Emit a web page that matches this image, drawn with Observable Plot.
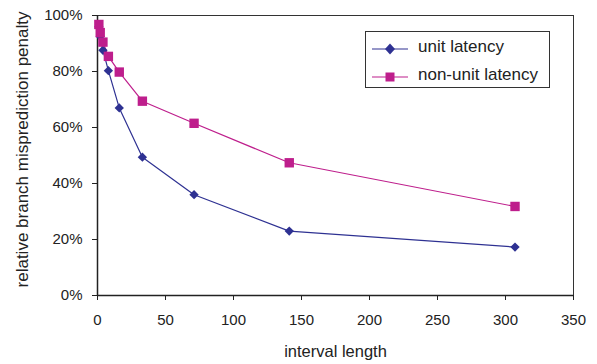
<!DOCTYPE html>
<html>
<head>
<meta charset="utf-8">
<script src="https://cdn.jsdelivr.net/npm/d3@7"></script>
<script src="https://cdn.jsdelivr.net/npm/@observablehq/plot@0.6"></script>
<style>
  html, body { margin: 0; padding: 0; background: #fff; }
  #wrap { position: relative; width: 597px; height: 364px; font-family: "Liberation Sans", Arial, sans-serif; }
  #legend { position: absolute; left: 365px; top: 31px; width: 183px; height: 55px; border: 1px solid #333; background: #fff; }
  .sym { position: absolute; left: 6px; width: 36px; height: 12px; }
  .lbl { position: absolute; left: 52px; font-size: 17px; line-height: 20px; color: #222; white-space: nowrap; }
</style>
</head>
<body>
<div id="wrap"></div>
<script>
const xValues = [1, 2, 4, 8, 16, 33, 71, 141, 307];
const unitLatency = [0.96, 0.925, 0.876, 0.803, 0.670, 0.494, 0.360, 0.230, 0.173];
const nonUnitLatency = [0.968, 0.939, 0.905, 0.854, 0.798, 0.694, 0.615, 0.474, 0.318];
const seriesNames = ["unit latency", "non-unit latency"];
const xTicks = [0, 50, 100, 150, 200, 250, 300, 350];
const yTicks = [0, 0.2, 0.4, 0.6, 0.8, 1.0];
const colors = ["#2E3192", "#BE1E8C"];

const unitData = xValues.map((x, i) => ({x, y: unitLatency[i]}));
const nonUnitData = xValues.map((x, i) => ({x, y: nonUnitLatency[i]}));

const fontFamily = "Liberation Sans, Arial, sans-serif";

const chart = Plot.plot({
  width: 597,
  height: 364,
  marginLeft: 97,
  marginRight: 24,
  marginTop: 15,
  marginBottom: 69,
  style: {fontFamily, fontSize: "15px", color: "#222", background: "#fff"},
  x: {domain: [0, 350]},
  y: {domain: [0, 1]},
  marks: [
    Plot.frame({stroke: "#333", strokeWidth: 1}),
    Plot.axisX({ticks: xTicks, tickSize: 5, tickPadding: 14, tickFormat: d => String(d), label: null, fontSize: 15, stroke: "#222"}),
    Plot.axisY({ticks: yTicks, tickSize: 5, tickPadding: 10, tickFormat: d => Math.round(d * 100) + "%", label: null, fontSize: 15, stroke: "#222"}),
    Plot.ruleX([0], {stroke: "#222", strokeWidth: 1.5}),
    Plot.ruleY([0], {stroke: "#222", strokeWidth: 1.5}),
    Plot.line(unitData, {x: "x", y: "y", stroke: colors[0], strokeWidth: 1.2}),
    Plot.line(nonUnitData, {x: "x", y: "y", stroke: colors[1], strokeWidth: 1.2}),
    Plot.dot(unitData, {x: "x", y: "y", symbol: "diamond2", r: 4.2, fill: colors[0], stroke: "none"}),
    Plot.dot(nonUnitData, {x: "x", y: "y", symbol: "square", r: 5.3, fill: colors[1], stroke: "none"}),
    Plot.text(["interval length"], {frameAnchor: "bottom", dy: 61, fontSize: 16.5, fill: "#222"}),
    Plot.text(["relative branch misprediction penalty"], {frameAnchor: "left", dx: -75, dy: -6, rotate: -90, textAnchor: "middle", fontSize: 17, fill: "#222"})
  ]
});

const wrap = document.getElementById("wrap");
wrap.appendChild(chart);

const legend = document.createElement("div");
legend.id = "legend";
const symbols = [
  `<polygon points="18,0.5 23,6 18,11.5 13,6" fill="${colors[0]}"/>`,
  `<rect x="13.5" y="1.5" width="9" height="9" fill="${colors[1]}"/>`
];
const rowCenters = [15, 43];
seriesNames.forEach((name, i) => {
  const sym = document.createElement("div");
  sym.className = "sym";
  sym.style.top = (rowCenters[i] - 6) + "px";
  sym.innerHTML = `<svg width="36" height="12"><line x1="0" y1="6" x2="36" y2="6" stroke="${colors[i]}" stroke-width="1.2"/>${symbols[i]}</svg>`;
  legend.appendChild(sym);
  const lbl = document.createElement("div");
  lbl.className = "lbl";
  lbl.style.top = (rowCenters[i] - 10) + "px";
  lbl.textContent = name;
  legend.appendChild(lbl);
});
wrap.appendChild(legend);
</script>
</body>
</html>
